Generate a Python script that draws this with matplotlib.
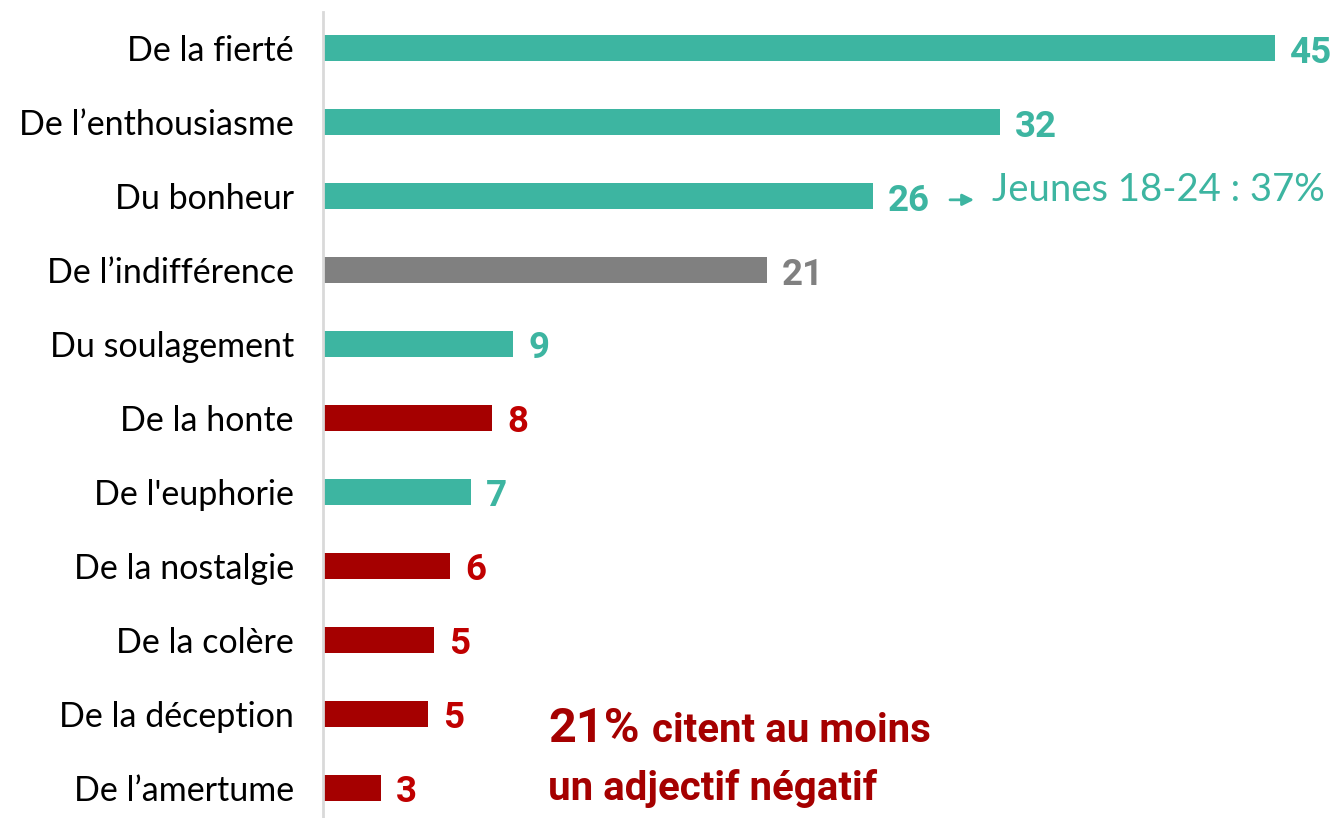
import matplotlib
matplotlib.use("Agg")
import matplotlib.pyplot as plt

categories = ["De la fierté", "De l’enthousiasme", "Du bonheur", "De l’indifférence",
              "Du soulagement", "De la honte", "De l'euphorie", "De la nostalgie",
              "De la colère", "De la déception", "De l’amertume"]
values = [45, 32, 26, 21, 9, 8, 7, 6, 5.25, 4.96, 2.74]
labels = ["45", "32", "26", "21", "9", "8", "7", "6", "5", "5", "3"]
kinds = ["pos", "pos", "pos", "neu", "pos", "neg", "pos", "neg", "neg", "neg", "neg"]
palette = {"pos": "#3DB5A1", "neu": "#808080", "neg": "#A50000"}
value_colors = {"pos": "#3DB5A1", "neu": "#808080", "neg": "#C00000"}

W, H = 1337, 818
fig = plt.figure(figsize=(W / 100, H / 100), dpi=100)
left_px = 323
ax = fig.add_axes([left_px / W, 0, (W - left_px) / W, (818 - 12) / H])

ypos = list(range(len(categories)))
ax.barh(ypos, values, height=0.35, color=[palette[k] for k in kinds])
ax.set_xlim(0, (W - left_px) / 21.16)
ax.set_ylim(10.41, -0.49)

for y, v, lab, k in zip(ypos, values, labels, kinds):
    ax.text(v + 0.7, y + 0.06, lab, va="center", ha="left", fontsize=26.5,
            fontweight="bold", color=value_colors[k], family="Roboto")

ax.set_yticks(ypos)
ax.set_yticklabels(categories, fontsize=24.5, family="Lato")
ax.tick_params(axis="y", length=0, pad=21)
ax.set_xticks([])
for s in ["top", "right", "bottom"]:
    ax.spines[s].set_visible(False)
ax.spines["left"].set_color("#D9D9D9")
ax.spines["left"].set_linewidth(2)

# annotation for "Du bonheur"
ax.annotate("", xy=(30.9, 2.05), xytext=(29.5, 2.05),
            arrowprops=dict(arrowstyle="-|>", color="#3DB5A1", lw=2, mutation_scale=17))
ax.text(31.6, 1.92, "Jeunes 18-24 : 37%", va="center", ha="left", fontsize=27.5,
        color="#3DB5A1", family="Lato")

# red callout
t1 = fig.text(548 / W, 1 - 742 / H, "21%", fontsize=35, fontweight="bold", color="#A50000",
              family="Roboto", va="baseline", ha="left")
fig.canvas.draw()
bb = t1.get_window_extent(fig.canvas.get_renderer())
fig.text((bb.x1 + 12) / W, 1 - 742 / H, "citent au moins", fontsize=29, fontweight="bold",
         color="#A50000", family="Roboto", va="baseline", ha="left")
fig.text(548 / W, 1 - 800 / H, "un adjectif négatif", fontsize=29, fontweight="bold",
         color="#A50000", family="Roboto", va="baseline", ha="left")

fig.savefig("out.png", dpi=100)
